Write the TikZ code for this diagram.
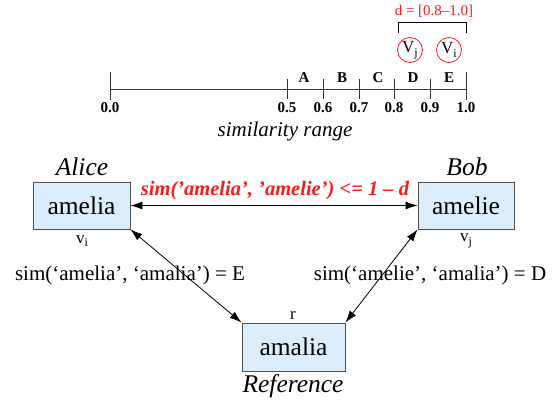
\documentclass[tikz,border=0pt]{standalone}
\usepackage{fontspec}
\setmainfont{Liberation Serif}[Ligatures=TeX]
\usetikzlibrary{arrows.meta}
\definecolor{boxfill}{HTML}{DCEEFB}
\definecolor{boxline}{HTML}{505050}
\definecolor{redc}{HTML}{FF1A1A}
\newcommand{\lowsub}[1]{\raisebox{-0.22em}{\fontsize{12}{12}\selectfont #1}}
\begin{document}
\begin{tikzpicture}[x=1pt,y=-1pt,
  wordbox/.style={draw=boxline, fill=boxfill, line width=0.9pt, inner sep=0pt,
    minimum height=47pt, font=\fontsize{25.5}{28}\selectfont},
  rolelbl/.style={font=\fontsize{25.5}{28}\selectfont\itshape, inner sep=0pt},
  smalllbl/.style={font=\fontsize{17}{19}\selectfont, inner sep=0pt},
  simlbl/.style={font=\fontsize{21}{24}\selectfont, inner sep=0pt},
  axlbl/.style={font=\fontsize{15}{17}\selectfont\bfseries, inner sep=0pt},
  vcirc/.style={circle, draw=redc, line width=0.8pt, minimum size=25pt, inner sep=0pt,
    font=\fontsize{17}{19}\selectfont},
  axline/.style={line width=0.9pt, draw=black!80},
  conn/.style={line width=0.8pt, {Latex[length=12pt,width=8pt]}-{Latex[length=12pt,width=8pt]}}
]
\useasboundingbox (0,0) rectangle (560,405);

% similarity axis
\draw[axline] (110,89) -- (466,89);
\draw[axline] (110,72) -- (110,100);
\draw[axline] (466,72) -- (466,100);
\foreach \x in {287,323,359,394,430} \draw[axline] (\x,79) -- (\x,99);

\foreach \x/\t/\n in {110/0.0/a0, 287/0.5/a5, 323/0.6/a6, 359/0.7/a7, 394/0.8/a8, 430/0.9/a9, 466/1.0/a10}
  \node[axlbl] (\n) at (\x,108) {\t};
\foreach \x/\t in {304/A, 342/B, 378/C, 413/D, 449/E}
  \node[axlbl] (l\t) at (\x,78) {\t};
\node[font=\fontsize{21}{24}\selectfont\itshape, inner sep=0pt] (range) at (285,131) {similarity range};

% d bracket and circles
\draw[line width=1pt] (398,33) -- (398,22) -- (466,22) -- (466,33);
\node[font=\fontsize{15}{17}\selectfont, text=redc, inner sep=0pt] (dlbl) at (434,11) {d = [0.8–1.0]};
\node[vcirc] (cvj) at (410,50) {V\lowsub{j}};
\node[vcirc] (cvi) at (449,50) {V\lowsub{i}};

% word boxes
\node[wordbox, minimum width=97pt] (amelia) at (81.5,205.5) {amelia};
\node[wordbox, minimum width=96pt] (amelie) at (466,205.5) {amelie};
\node[wordbox, minimum width=103pt, minimum height=48pt] (amalia) at (293.5,347) {amalia};

\node[rolelbl] (alice) at (82,167) {Alice};
\node[rolelbl] (bob) at (467,167) {Bob};
\node[rolelbl] (ref) at (293,386) {Reference};

\node[smalllbl] (vi) at (82,241) {v\lowsub{i}};
\node[smalllbl] (vj) at (466,241) {v\lowsub{j}};
\node[smalllbl] (r) at (293,315) {r};

% connectors
\draw[conn] (amelia.east) -- (amelie.west);
\draw[conn] (amelia.south east) -- (amalia.north west);
\draw[conn] (amelie.south west) -- (amalia.north east);

\node[font=\fontsize{20.5}{23}\selectfont\bfseries\itshape, text=redc, inner sep=0pt] (cond) at (275,191) {sim('amelia', 'amelie') <= 1 – d};
\node[simlbl] (simE) at (130,275) {sim(`amelia', `amalia') = E};
\node[simlbl] (simD) at (430,275) {sim(`amelie', `amalia') = D};
\end{tikzpicture}
\end{document}
